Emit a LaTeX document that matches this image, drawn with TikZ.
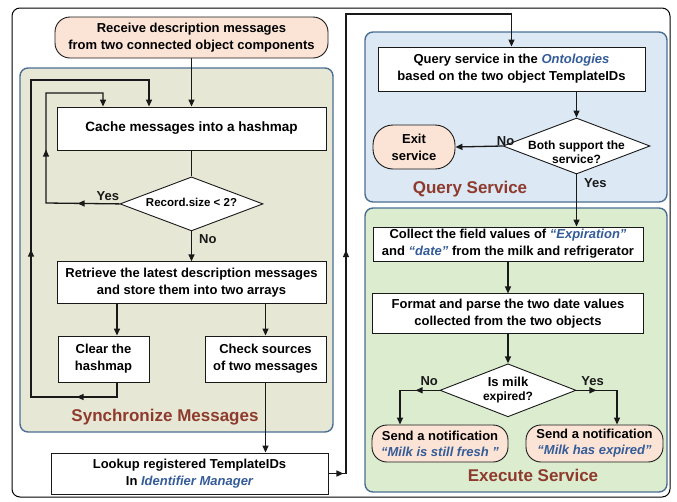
\documentclass[tikz,border=0pt]{standalone}
\usepackage{fontspec}
\setmainfont{Liberation Sans}
\usetikzlibrary{arrows.meta, positioning, shapes.geometric, decorations.markings}
\definecolor{flowink}{RGB}{25,25,25}
\definecolor{termpink}{RGB}{251,228,214}
\definecolor{syncolive}{RGB}{230,231,213}
\definecolor{queryblue}{RGB}{220,232,244}
\definecolor{execgreen}{RGB}{220,236,207}
\definecolor{groupedge}{RGB}{74,110,148}
\definecolor{labelred}{RGB}{142,59,46}
\definecolor{termblue}{RGB}{52,92,152}
\newcommand{\kw}[1]{\textcolor{termblue}{\itshape #1}}
\newcommand{\dtext}[2][-0.25em]{\makebox[0pt]{\smash{\raisebox{#1}{\begin{tabular}{@{}c@{}}#2\end{tabular}}}}}

\begin{document}
\begin{tikzpicture}[
  x=1pt, y=-1pt,
  proc/.style={draw=flowink, fill=white, line width=0.9pt, inner sep=0pt,
               align=center, font=\fontsize{13}{17}\selectfont\bfseries},
  term/.style={proc, fill=termpink, rounded corners=15pt},
  decision/.style={diamond, draw=flowink, fill=white, line width=0.9pt,
                   inner sep=0pt, font=\fontsize{12}{14}\selectfont\bfseries},
  flow/.style={-{Triangle[length=7pt, width=6pt]}, line width=1.3pt, flowink},
  link/.style={line width=1.3pt, flowink},
  midarrows/.style 2 args={postaction={decorate}, decoration={markings,
      mark=at position #1 with {\arrow{Triangle[length=7pt, width=6pt]}},
      mark=at position #2 with {\arrow{Triangle[length=7pt, width=6pt]}}}},
  midarrow/.style={postaction={decorate}, decoration={markings,
      mark=at position #1 with {\arrow{Triangle[length=7pt, width=6pt]}}}},
  group/.style={draw=groupedge, line width=1.4pt, rounded corners=8pt},
  grouplabel/.style={font=\fontsize{17}{20}\selectfont\bfseries, text=labelred},
  tag/.style={font=\fontsize{13}{15}\selectfont\bfseries, inner sep=1pt},
]
  \useasboundingbox (0,0) rectangle (677,501);
  \draw[line width=1pt, rounded corners=8pt] (12,8) rectangle (670,497);

  % Groups
  \draw[group, fill=syncolive] (20,68) rectangle (333,432);
  \draw[group, fill=queryblue] (365,32) rectangle (667,202);
  \draw[group, fill=execgreen] (365,208) rectangle (667,492);

  % Synchronize messages
  \node[term, minimum width=273pt, minimum height=41pt] (start) at (191.5,37.5)
    {Receive description messages\\from two connected object components};
  \node[proc, minimum width=269pt, minimum height=43pt, font=\fontsize{13.5}{17}\selectfont\bfseries]
    (cache) at (191.5,128.5) {Cache messages into a hashmap};
  \node[decision, minimum width=143pt, minimum height=54pt, below=26pt of cache] (rec)
    {\dtext{\fontsize{11.5}{14}\selectfont Record.size < 2?}};
  \node[proc, minimum width=269pt, minimum height=42pt, below=30pt of rec] (retrieve)
    {Retrieve the latest description messages\\and store them into two arrays};
  \node[proc, minimum width=91pt, minimum height=46pt] (clear) at (103.5,359)
    {Clear the\\hashmap};
  \node[proc, minimum width=121pt, minimum height=46pt] (check) at (265.5,359)
    {Check sources\\of two messages};
  \node[grouplabel] (synclabel) at (165,417) {Synchronize Messages};
  \node[proc, minimum width=277pt, minimum height=41pt] (lookup) at (189.5,473.5)
    {Lookup registered TemplateIDs\\In \kw{Identifier Manager}};

  % Query service
  \node[proc, minimum width=267pt, minimum height=44pt] (query) at (511.5,69)
    {Query service in the \kw{Ontologies}\\based on the two object TemplateIDs};
  \node[decision, minimum width=147pt, minimum height=56pt] (both) at (576.5,146)
    {\dtext[-0.85em]{Both support the\\service?}};
  \node[term, rounded corners=20pt, minimum width=82pt, minimum height=44pt] (exit)
    at (414,147) {Exit\\service};
  \node[grouplabel] (querylabel) at (470,189) {Query Service};

  % Execute service
  \node[proc, minimum width=270pt, minimum height=34pt] (collect) at (508,244)
    {Collect the field values of \kw{“Expiration”}\\and \kw{“date”} from the milk and refrigerator};
  \node[proc, minimum width=271pt, minimum height=40pt, below=32pt of collect] (format)
    {Format and parse the two date values\\collected from the two objects};
  \node[decision, minimum width=136pt, minimum height=53pt, below=29pt of format] (milk)
    {\dtext{\fontsize{13}{15}\selectfont Is milk\\expired?}};
  \node[term, minimum width=136pt, minimum height=37pt, font=\fontsize{13}{16}\selectfont\bfseries]
    (fresh) at (440,443.5) {Send a notification\\\kw{“Milk is still fresh ”}};
  \node[term, minimum width=137pt, minimum height=37pt, font=\fontsize{13}{16}\selectfont\bfseries]
    (expired) at (594.5,443.5) {Send a notification\\\kw{“Milk has expired”}};
  \node[grouplabel] (execlabel) at (533,475) {Execute Service};

  % Connectors
  \draw[flow] (start) -- (cache);
  \draw[link] (cache) -- (rec);
  \draw[flow] (rec) -- node[tag, anchor=west, pos=0.27, xshift=6pt] {No} (retrieve);
  \draw[flow, midarrows={42pt}{127pt}] (rec.west)
    -- node[tag, anchor=south, pos=0.16, yshift=1pt] {Yes} (46,203)
    |- (103,93) -- (103,0 |- cache.north);
  \draw[flow] (117,0 |- retrieve.south) -- (117,0 |- clear.north);
  \draw[flow] (retrieve.south -| check.north) -- (check.north);
  \draw[flow, midarrows={55pt}{248pt}] (117,0 |- clear.south) -- (117,397)
    -| (31,80) -| (149,0 |- cache.north);
  \draw[flow] (check.south) -- (check.south |- lookup.north);
  \draw[flow, midarrows={15pt}{241pt}] (lookup.east) -| (346,14) -| (query.north);

  \draw[flow] (query.south -| both.north) -- (both.north);
  \draw[flow] (both.west) -- node[tag, anchor=south, pos=0, xshift=3pt, yshift=-1pt] {No} (exit.east);
  \draw[flow] (both.south) -- node[tag, anchor=west, pos=0.17, xshift=6pt] {Yes} (both.south |- collect.north);
  \draw[flow] (collect) -- (format);
  \draw[flow] (format) -- (milk);
  \draw[flow, midarrow=24pt] (milk.west)
    -| node[tag, anchor=south, pos=0.13, yshift=3pt] {No} (400,0 |- fresh.north);
  \draw[flow, midarrow=20pt] (milk.east)
    -| node[tag, anchor=south, pos=0.2, yshift=3pt] {Yes} (617,0 |- expired.north);
\end{tikzpicture}
\end{document}
